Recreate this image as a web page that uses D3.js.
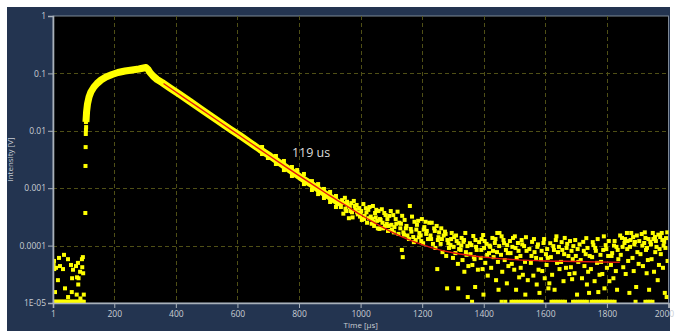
<!DOCTYPE html>
<html>
<head>
<meta charset="utf-8">
<script src="https://cdn.jsdelivr.net/npm/d3@7"></script>
<style>
  body { margin: 0; background: #fff; }
  text { font-family: "Open Sans", sans-serif; }
</style>
</head>
<body>
<div id="chart"></div>
<script>
// axis ticks
const xTicks = [1, 200, 400, 600, 800, 1000, 1200, 1400, 1600, 1800, 2000]
const yTicks = [1, 0.1, 0.01, 0.001, 0.0001, 0.00001]
const yTickLabels = ["1", "0.1", "0.01", "0.001", "0.0001", "1E-05"]
const xLabel = "Time [µs]"
const yLabel = "Intensity [V]"
const fitLabel = "119 us"

// [time µs, intensity V] — noise before the pulse
const preTrigger = [
  [2, 5.4e-5], [3, 4.6e-5], [4, 5.4e-5], [5, 3.9e-5], [7.5, 1.55e-5], [10.7, 4.1e-5], [17, 2.5e-5],
  [20.5, 6.1e-5], [23.7, 4.4e-5], [33.5, 3.9e-5], [36.7, 6.9e-5], [40, 1.8e-5], [49.7, 5.8e-5],
  [50, 1.27e-5], [59.5, 4.6e-5], [62, 1.55e-5], [63, 2.7e-5], [66, 3.8e-5], [75.7, 4.4e-5],
  [78, 1.4e-5], [79, 2.8e-5], [82, 5.0e-5], [83, 2.1e-5], [84, 2.7e-5], [89, 3.5e-5], [90, 1.2e-5],
  [95, 5.8e-5], [98, 6.3e-5], [101, 1.4e-5], [96, 4.2e-5], [99, 3.3e-5]
]
// samples sitting on the 1E-05 floor
const preFloor = [2, 5, 9, 13, 16, 20, 24, 27, 31, 35, 38, 42, 46, 49, 53, 57, 60, 64, 68, 71, 75, 79, 82, 86, 90, 93, 97, 101]

// the steep first samples of the pulse
const riseColumn = [
  [106, 3.7e-4], [106.5, 2.44e-3], [107, 5.2e-3], [107.5, 8.8e-3], [108, 0.0103], [108.5, 0.0116]
]

// centre of the dense yellow band (rise, peak, decay)
const signalBand = [
  [108, 0.0142], [110, 0.0213], [113, 0.0293], [118, 0.0388], [124, 0.0474], [134, 0.0579],
  [144, 0.0667], [157, 0.0767], [173, 0.0865], [193, 0.0957], [212, 0.1037], [235, 0.110],
  [258, 0.1146], [280, 0.1193], [303, 0.1268], [310, 0.117], [316, 0.1037], [326, 0.0901],
  [339, 0.0783], [355, 0.0694], [381, 0.0557], [413, 0.0429], [446, 0.0324], [478, 0.0245],
  [511, 0.0185], [543, 0.0142], [576, 0.01074], [608, 0.00828], [641, 0.00625], [673, 0.00472],
  [706, 0.00364], [738, 0.00275], [771, 0.00207], [803, 0.00157], [836, 0.00121], [868, 0.000912],
  [901, 0.000703], [933, 0.000531]
]

// scatter around the band where it starts to get noisy
const bandScatter = [
  [680, 5.22e-3], [680, 3.94e-3], [699, 3.36e-3], [725, 3.64e-3], [725, 2.64e-3], [751, 2.98e-3],
  [751, 2.07e-3], [777, 2.34e-3], [777, 1.63e-3], [794, 2.07e-3], [816, 1.77e-3], [816, 1.18e-3],
  [842, 1.33e-3], [842, 9.3e-4], [862, 1.18e-3], [862, 7.9e-4], [881, 9.7e-4], [881, 6.75e-4],
  [901, 8.6e-4], [901, 5.75e-4], [920, 7.31e-4], [920, 4.7e-4]
]

// noisy tail
const tailScatter = [
  [936, 4.7e-4], [940, 6.2e-4], [944, 3.6e-4], [946, 5.5e-4], [949, 6.8e-4], [953, 4.0e-4], [958, 5.1e-4], [962, 3.0e-4],
  [967, 4.0e-4], [970, 5.5e-4], [974, 3.1e-4], [978, 6.0e-4], [983, 4.2e-4], [987, 5.1e-4], [991, 3.5e-4], [995, 4.5e-4],
  [1000, 3.7e-4], [1004, 2.8e-4], [1009, 5.3e-4], [1013, 3.3e-4], [1017, 4.5e-4], [1021, 2.5e-4], [1025, 4.2e-4], [1029, 4.7e-4],
  [1033, 3.2e-4], [1036, 2.4e-4], [1040, 4.9e-4], [1044, 2.2e-4], [1047, 3.7e-4], [1051, 4.2e-4], [1054, 2.7e-4], [1058, 4.0e-4], [1061, 1.95e-4],
  [1065, 2.8e-4], [1069, 4.3e-4], [1073, 2.0e-4], [1077, 3.7e-4], [1081, 3.4e-4], [1085, 2.4e-4], [1089, 1.8e-4], [1093, 3.3e-4],
  [1098, 4.0e-4], [1102, 1.9e-4], [1106, 3.4e-4], [1110, 2.1e-4], [1114, 2.9e-4], [1120, 3.9e-4], [1123, 1.6e-4], [1126, 2.5e-4],
  [1131, 2.4e-4], [1134, 8.4e-5], [1135, 3.3e-4], [1137, 6.3e-5], [1139, 1.7e-4], [1143, 2.8e-4], [1147, 2.0e-4], [1152, 1.5e-4], [1160, 4.9e-4],
  [1163, 1.95e-4], [1167, 3.2e-4], [1171, 1.41e-4], [1175, 2.6e-4], [1179, 1.25e-4], [1183, 2.3e-4], [1187, 2.7e-4], [1191, 1.66e-4],
  [1195, 1.5e-4], [1199, 2.9e-4], [1203, 1.1e-4], [1207, 2.1e-4], [1211, 2.6e-4], [1215, 1.8e-4], [1219, 1.3e-4], [1223, 2.5e-4],
  [1227, 1.5e-4], [1231, 2.5e-4], [1235, 1.07e-4], [1239, 2.0e-4], [1243, 9.1e-5], [1247, 2.2e-4], [1249, 3.9e-5], [1251, 1.25e-4], [1255, 1.7e-4],
  [1260, 1.07e-4], [1262, 2.0e-4], [1266, 7.7e-5], [1270, 1.5e-4], [1274, 1.75e-4], [1278, 6.6e-5], [1281, 1.8e-5], [1282, 1.25e-4], [1287, 9.1e-5],
  [1292, 1.02e-4], [1296, 1.66e-4], [1300, 6.1e-5], [1304, 1.41e-4], [1308, 7.4e-5], [1312, 1.2e-4], [1316, 4.8e-5], [1317, 1.8e-5], [1320, 8.7e-5],
  [1325, 8.4e-5], [1328, 1.36e-4], [1331, 5.6e-5], [1334, 1.16e-4], [1337, 3.5e-5], [1340, 1.66e-4], [1344, 6.9e-5], [1347, 9.8e-5], [1348, 1.27e-5], [1350, 4.4e-5],
  [1357, 7.1e-5], [1360, 1.02e-4], [1363, 4.6e-5], [1366, 1.47e-4], [1370, 5.8e-5], [1372, 1.9e-5], [1373, 1.25e-4], [1377, 8.4e-5], [1381, 3.8e-5],
  [1390, 6.1e-5], [1393, 1.3e-4], [1396, 3.9e-5], [1398, 1.53e-4], [1399, 1.4e-5], [1401, 9.1e-5], [1405, 5.0e-5], [1409, 1.07e-4], [1413, 3.0e-5], [1417, 7.4e-5],
  [1421, 9.5e-5], [1424, 4.1e-5], [1428, 1.36e-4], [1432, 6.3e-5], [1436, 1.11e-4], [1440, 2.5e-5], [1443, 7.7e-5], [1444, 1.66e-4], [1446, 5.2e-5], [1448, 1.7e-5], [1451, 1.66e-4],
  [1456, 6.9e-5], [1460, 3.5e-5], [1464, 1.25e-4], [1468, 5.6e-5], [1472, 8.4e-5], [1475, 2.2e-5], [1476, 1.02e-4], [1480, 4.4e-5],
  [1487, 7.4e-5], [1491, 4.8e-5], [1495, 1.36e-4], [1499, 3.8e-5], [1503, 9.1e-5], [1505, 1.7e-5], [1507, 6.1e-5], [1511, 1.11e-4], [1515, 2.8e-5],
  [1519, 6.6e-5], [1520, 4.1e-5], [1523, 1.25e-4], [1527, 3.1e-5], [1531, 9.8e-5], [1534, 5.2e-5], [1535, 1.4e-5], [1539, 8.1e-5], [1543, 2.5e-5],
  [1553, 5.0e-5], [1557, 1.16e-4], [1561, 3.0e-5], [1565, 7.7e-5], [1570, 6.1e-5], [1572, 2.1e-5], [1574, 9.5e-5], [1578, 3.8e-5], [1581, 1.5e-5],
  [1586, 5.8e-5], [1590, 3.6e-5], [1594, 1.11e-4], [1598, 2.7e-5], [1602, 7.1e-5], [1604, 4.6e-5], [1606, 8.7e-5], [1610, 1.8e-5], [1613, 2.2e-5],
  [1618, 6.3e-5], [1622, 3.1e-5], [1626, 9.8e-5], [1630, 1.7e-5], [1634, 1.25e-4], [1638, 5.0e-5], [1641, 7.7e-5], [1646, 3.9e-5],
  [1651, 5.2e-5], [1655, 8.4e-5], [1659, 2.4e-5], [1663, 1.36e-4], [1667, 4.1e-5], [1671, 1.07e-4], [1675, 6.6e-5], [1678, 3.2e-5],
  [1683, 4.2e-5], [1685, 8.1e-5], [1687, 2.6e-5], [1691, 9.8e-5], [1695, 3.3e-5], [1699, 6.6e-5], [1703, 1.4e-5], [1707, 5.2e-5],
  [1715, 5.6e-5], [1719, 2.7e-5], [1723, 1.16e-4], [1727, 4.4e-5], [1731, 7.1e-5], [1735, 2.1e-5], [1737, 9.1e-5], [1739, 3.5e-5], [1742, 1.5e-5],
  [1748, 3.9e-5], [1752, 6.3e-5], [1756, 1.02e-4], [1760, 2.4e-5], [1764, 8.1e-5], [1768, 5.0e-5], [1772, 1.55e-5], [1776, 3.1e-5],
  [1781, 5.2e-5], [1785, 3.2e-5], [1788, 8.4e-5], [1792, 1.8e-5], [1796, 1.02e-4], [1800, 4.1e-5], [1804, 6.6e-5], [1808, 2.4e-5],
  [1813, 4.6e-5], [1817, 7.4e-5], [1821, 2.7e-5], [1825, 1.2e-4], [1829, 3.6e-5], [1831, 9.5e-5], [1833, 1.7e-5], [1837, 5.8e-5],
  [1845, 6.9e-5], [1849, 1.36e-4], [1853, 4.2e-5], [1857, 1.11e-4], [1861, 3.2e-5], [1865, 1.66e-4], [1866, 8.7e-5], [1869, 5.4e-5], [1873, 1.5e-5],
  [1875, 9.5e-5], [1879, 1.66e-4], [1883, 6.1e-5], [1885, 1.41e-4], [1887, 3.6e-5], [1891, 1.16e-4], [1895, 1.9e-5], [1899, 7.7e-5], [1903, 4.8e-5],
  [1909, 7.1e-5], [1913, 1.59e-4], [1917, 4.4e-5], [1921, 1.11e-4], [1925, 1.36e-4], [1929, 3.3e-5], [1930, 9.1e-5], [1933, 5.6e-5], [1937, 1.7e-5],
  [1941, 1.16e-4], [1945, 5.8e-5], [1949, 1.66e-4], [1953, 3.5e-5], [1956, 1.41e-4], [1957, 7.7e-5], [1961, 9.5e-5], [1965, 2.5e-5], [1969, 4.6e-5],
  [1973, 1.41e-4], [1975, 7.1e-5], [1978, 1.66e-4], [1982, 4.1e-5], [1986, 1.16e-4], [1988, 1.5e-5], [1990, 9.1e-5], [1994, 1.27e-5], [1997, 5.4e-5]
]
// more samples in the dense upper part of the noise
const tailDense = [
  [938, 5.8e-4], [951, 4.4e-4], [956, 5.8e-4], [965, 4.7e-4], [972, 3.8e-4], [981, 4.9e-4], [989, 3.8e-4], [998, 3.2e-4],
  [1002, 4.0e-4], [1011, 2.9e-4], [1019, 3.8e-4], [1027, 3.0e-4], [1038, 2.9e-4], [1042, 2.6e-4], [1049, 3.1e-4], [1056, 2.0e-4],
  [1063, 2.9e-4], [1071, 2.5e-4], [1079, 2.2e-4], [1087, 2.9e-4], [1091, 2.2e-4], [1100, 2.3e-4], [1108, 1.7e-4], [1116, 2.4e-4],
  [1129, 2.0e-4], [1141, 1.55e-4], [1149, 2.2e-4], [1157, 1.3e-4], [1165, 1.75e-4], [1173, 1.15e-4], [1181, 1.9e-4], [1189, 1.4e-4],
  [1197, 1.2e-4], [1205, 1.9e-4], [1213, 1.6e-4], [1229, 1.3e-4], [1241, 1.8e-4], [1253, 1.4e-4], [1264, 1.3e-4], [1276, 1.6e-4],
  [1285, 1.1e-4], [1294, 1.3e-4], [1302, 9.5e-5], [1310, 1.5e-4], [1318, 1.1e-4], [1327, 1.0e-4], [1336, 1.25e-4], [1342, 7.7e-5],
  [1355, 1.1e-4], [1368, 6.3e-5], [1375, 9.5e-5], [1385, 1.15e-4], [1392, 8.4e-5], [1403, 1.2e-4], [1411, 6.9e-5], [1419, 1.0e-4],
  [1430, 8.1e-5], [1438, 1.3e-4], [1450, 9.8e-5], [1458, 1.45e-4], [1466, 1.1e-4], [1478, 7.4e-5], [1485, 1.2e-4], [1493, 9.5e-5],
  [1501, 1.45e-4], [1513, 8.1e-5], [1525, 1.05e-4], [1537, 1.4e-4], [1548, 8.7e-5], [1555, 6.6e-5], [1563, 1.3e-4], [1576, 1.05e-4],
  [1588, 8.1e-5], [1596, 1.3e-4], [1608, 6.1e-5], [1616, 1.1e-4], [1628, 8.4e-5], [1636, 1.45e-4], [1644, 9.5e-5], [1653, 1.15e-4],
  [1661, 7.1e-5], [1669, 9.1e-5], [1680, 1.2e-4], [1689, 5.8e-5], [1697, 1.25e-4], [1705, 8.7e-5], [1711, 1.05e-4], [1725, 8.1e-5],
  [1733, 1.35e-4], [1744, 6.6e-5], [1754, 1.15e-4], [1762, 9.1e-5], [1770, 1.3e-4], [1779, 6.9e-5], [1790, 1.45e-4], [1798, 8.7e-5],
  [1806, 1.2e-4], [1815, 6.6e-5], [1823, 1.0e-4], [1835, 8.4e-5], [1843, 1.5e-4], [1851, 9.5e-5], [1859, 1.3e-4], [1867, 1.2e-4],
  [1877, 1.25e-4], [1889, 1.05e-4], [1897, 1.5e-4], [1905, 1.2e-4], [1915, 1.0e-4], [1923, 1.7e-4], [1927, 8.4e-5], [1935, 1.3e-4],
  [1943, 1.05e-4], [1951, 1.3e-4], [1959, 1.2e-4], [1967, 1.55e-4], [1971, 8.7e-5], [1980, 1.25e-4], [1984, 1.0e-4], [1992, 1.35e-4],
  [1996, 1.7e-4]
]
const tailFloor = [
  1362, 1458, 1470, 1490, 1497, 1505, 1512, 1520, 1527, 1535, 1542, 1550, 1558, 1565, 1573, 1580, 1588,
  1620, 1627, 1634, 1641, 1649, 1656, 1664, 1690, 1697, 1705, 1712, 1720, 1727, 1735, 1750, 1757, 1765,
  1772, 1780, 1787, 1795, 1802, 1810, 1817, 1825, 1893, 1925, 1933, 1940, 1948
]
const floorValue = 1.05e-5

// exponential fit (red)
const fitCurve = [
  [360, 0.0667], [400, 0.0474], [450, 0.0311], [500, 0.0204], [550, 0.0134], [600, 0.00879],
  [650, 0.00577], [700, 0.00379], [750, 0.0025], [800, 0.00166], [850, 0.00111], [900, 7.4e-4],
  [950, 5.1e-4], [1000, 3.45e-4], [1050, 2.42e-4], [1100, 1.74e-4], [1150, 1.31e-4], [1200, 1.04e-4],
  [1250, 8.6e-5], [1300, 7.5e-5], [1350, 6.8e-5], [1400, 6.3e-5], [1500, 5.7e-5], [1600, 5.4e-5],
  [1700, 5.3e-5], [1842, 5.1e-5]
]

const width = 675, height = 331
const svg = d3.select("#chart").append("svg")
    .attr("width", width)
    .attr("height", height)

// panel background
svg.append("rect").attr("x", 7).attr("y", 7).attr("width", 663).attr("height", 324).attr("fill", "#233450")

const plot = { left: 53, right: 668.5, top: 16, bottom: 303 }
const x = d3.scaleLinear().domain([1, 2000]).range([plot.left, plot.right])
const y = d3.scaleLog().domain([1e-5, 1]).range([plot.bottom, plot.top])

svg.append("rect")
    .attr("x", plot.left).attr("y", plot.top)
    .attr("width", plot.right - plot.left).attr("height", plot.bottom - plot.top)
    .attr("fill", "#000")
    .attr("stroke", "#7d8794").attr("stroke-width", 1)

svg.append("clipPath").attr("id", "clip")
    .append("rect")
    .attr("x", plot.left).attr("y", plot.top)
    .attr("width", plot.right - plot.left).attr("height", plot.bottom - plot.top)

// grid
const grid = svg.append("g").attr("stroke", "#4f4f16").attr("stroke-width", 1).attr("stroke-dasharray", "4,3")
grid.selectAll(".gx").data(xTicks.slice(1, -1)).enter().append("line")
    .attr("x1", d => Math.round(x(d)) + 0.5).attr("x2", d => Math.round(x(d)) + 0.5)
    .attr("y1", plot.top).attr("y2", plot.bottom)
grid.selectAll(".gy").data(yTicks.slice(1, -1)).enter().append("line")
    .attr("y1", d => Math.round(y(d)) + 0.5).attr("y2", d => Math.round(y(d)) + 0.5)
    .attr("x1", plot.left).attr("x2", plot.right)

const data = svg.append("g").attr("clip-path", "url(#clip)")

// dense band
data.append("path")
    .datum(signalBand)
    .attr("fill", "none")
    .attr("stroke", "#ffff00")
    .attr("stroke-width", 7)
    .attr("stroke-linejoin", "round")
    .attr("d", d3.line().x(d => x(d[0])).y(d => y(d[1])))

const points = [].concat(
    preTrigger,
    preFloor.map(t => [t, floorValue]),
    riseColumn,
    signalBand,
    bandScatter,
    tailScatter,
    tailDense,
    tailFloor.map(t => [t, floorValue])
)
const sq = 4
data.selectAll("rect.pt").data(points).enter().append("rect")
    .attr("class", "pt")
    .attr("x", d => x(d[0]) - sq / 2)
    .attr("y", d => y(d[1]) - sq / 2)
    .attr("width", sq).attr("height", sq)
    .attr("fill", "#ffff00")

// fit
data.append("path")
    .datum(fitCurve)
    .attr("fill", "none")
    .attr("stroke", "#e3170f")
    .attr("stroke-width", 1.4)
    .attr("d", d3.line().x(d => x(d[0])).y(d => y(d[1])).curve(d3.curveMonotoneX))

svg.append("text")
    .attr("x", x(777)).attr("y", 157)
    .attr("fill", "#dcdcdc")
    .attr("font-size", "12.5px")
    .text(fitLabel)

// axes
const axisColor = "#a9b1ba"
const yAxis = svg.append("g")
    .attr("transform", "translate(" + plot.left + ",0)")
    .call(d3.axisLeft(y).tickValues(yTicks).tickFormat((d, i) => yTickLabels[i]).tickSize(5).tickPadding(2))
const xAxis = svg.append("g")
    .attr("transform", "translate(0," + plot.bottom + ")")
    .call(d3.axisBottom(x).tickValues(xTicks).tickFormat(d3.format("d")).tickSize(5).tickPadding(3))

;[xAxis, yAxis].forEach(a => {
    a.select(".domain").attr("stroke", axisColor).attr("stroke-width", 1.6)
    a.selectAll(".tick line").attr("stroke", axisColor)
    a.selectAll(".tick text").attr("fill", "#c9ced4").attr("font-size", "8.5px").attr("font-family", "Open Sans, sans-serif")
})
// keep the last x label inside the window
xAxis.selectAll(".tick text").filter(d => d === 2000).attr("text-anchor", "end").attr("dx", "0.6em")

svg.append("text")
    .attr("x", (plot.left + plot.right) / 2).attr("y", 328)
    .attr("text-anchor", "middle")
    .attr("fill", "#c9ced4")
    .attr("font-size", "8px")
    .text(xLabel)

svg.append("text")
    .attr("transform", "translate(13," + (plot.top + plot.bottom) / 2 + ") rotate(-90)")
    .attr("text-anchor", "middle")
    .attr("fill", "#c9ced4")
    .attr("font-size", "8px")
    .text(yLabel)
</script>
</body>
</html>
